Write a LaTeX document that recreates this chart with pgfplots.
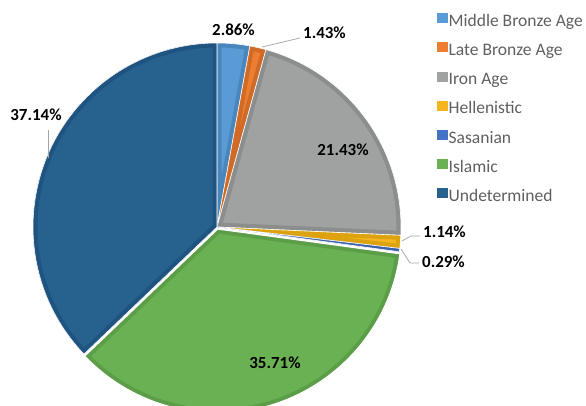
\documentclass[border=0pt]{standalone}
\usepackage{pgfplots}
\pgfplotsset{compat=1.18}
\usepackage{pgfplotstable}
\usepackage{fontspec}
\setmainfont{Carlito}

\definecolor{cMB}{HTML}{5B9BD5}\definecolor{bMB}{HTML}{4A86BE}
\definecolor{cLB}{HTML}{ED7D31}\definecolor{bLB}{HTML}{CF6A27}
\definecolor{cIA}{HTML}{A0A1A1}\definecolor{bIA}{HTML}{8C8D8D}
\definecolor{cHE}{HTML}{F5B51E}\definecolor{bHE}{HTML}{DDA210}
\definecolor{cSA}{HTML}{4472C4}\definecolor{bSA}{HTML}{3A62AA}
\definecolor{cIS}{HTML}{6AB154}\definecolor{bIS}{HTML}{5C9D48}
\definecolor{cUN}{HTML}{27628F}\definecolor{bUN}{HTML}{205480}
\definecolor{legtext}{HTML}{5F5F5F}
\definecolor{leader}{HTML}{A6A6A6}

\pgfplotstableread[col sep=comma]{
name,value
Middle Bronze Age,2.86
Late Bronze Age,1.43
Iron Age,21.43
Hellenistic,1.14
Sasanian,0.29
Islamic,35.71
Undetermined,37.14
}\piedata

\newcommand\piewedge[1]{(axis cs:217,179) -- ++(\csname sa#1\endcsname:184bp) arc[start angle=\csname sa#1\endcsname, end angle=\csname se#1\endcsname, radius=184bp] -- cycle}
\newcommand\pieslice[5]{%
  \begin{scope}[shift={#4}]
    \begin{scope}
      \clip \piewedge{#1};
      \fill[#2] \piewedge{#1};
      \draw[#3, line width=9bp] \piewedge{#1};
    \end{scope}
    \draw[white, line width=#5, line join=round] \piewedge{#1};
  \end{scope}}

\begin{document}
\begin{tikzpicture}
\gdef\cum{90}
\foreach \i in {0,...,6}{%
  \pgfplotstablegetelem{\i}{value}\of\piedata
  \pgfmathsetmacro\e{\cum-3.6*\pgfplotsretval}%
  \expandafter\xdef\csname sa\i\endcsname{\cum}%
  \expandafter\xdef\csname se\i\endcsname{\e}%
  \xdef\cum{\e}%
}
\begin{axis}[
  scale only axis, width=586bp, height=406bp,
  xmin=0, xmax=586, ymin=0, ymax=406,
  hide axis, clip=false,
  legend cell align=left,
  legend style={at={(axis cs:437,393)}, anchor=north west, draw=none, fill=none,
    inner sep=0pt, row sep=11bp, column sep=0pt,
    font=\fontsize{17.6}{20}\selectfont,
    nodes={inner sep=1bp, text height=12bp, text depth=4bp, text=legtext}},
]
\coordinate (BL) at (axis cs:0,0);
\coordinate (TR) at (axis cs:586,406);
\pieslice{0}{cMB}{bMB}{(0bp,0bp)}{0.6bp}
\pieslice{1}{cLB}{bLB}{(0bp,0bp)}{0.6bp}
\pieslice{2}{cIA}{bIA}{(0bp,0bp)}{0.6bp}
\pieslice{3}{cHE}{bHE}{(0bp,0bp)}{0.6bp}
\pieslice{4}{cSA}{bSA}{(0bp,0bp)}{0.6bp}
\pieslice{5}{cIS}{bIS}{(0.7bp,-2bp)}{1.2bp}
\pieslice{6}{cUN}{bUN}{(0bp,0bp)}{0.6bp}

\addlegendimage{legend image code/.code={\fill[cMB] (0bp,0bp) rectangle (10bp,9bp);}}
\addlegendentry{Middle Bronze Age}
\addlegendimage{legend image code/.code={\fill[cLB] (0bp,0bp) rectangle (10bp,9bp);}}
\addlegendentry{Late Bronze Age}
\addlegendimage{legend image code/.code={\fill[cIA] (0bp,0bp) rectangle (10bp,9bp);}}
\addlegendentry{Iron Age}
\addlegendimage{legend image code/.code={\fill[cHE] (0bp,0bp) rectangle (10bp,9bp);}}
\addlegendentry{Hellenistic}
\addlegendimage{legend image code/.code={\fill[cSA] (0bp,0bp) rectangle (10bp,9bp);}}
\addlegendentry{Sasanian}
\addlegendimage{legend image code/.code={\fill[cIS] (0bp,0bp) rectangle (10bp,9bp);}}
\addlegendentry{Islamic}
\addlegendimage{legend image code/.code={\fill[cUN] (0bp,0bp) rectangle (10bp,9bp);}}
\addlegendentry{Undetermined}

% leader lines
\draw[leader, line width=0.75bp] (axis cs:262,359) -- (axis cs:300,368);
\draw[leader, line width=0.75bp] (axis cs:402,165) -- (axis cs:411,170) -- (axis cs:420,170);
\draw[leader, line width=0.75bp] (axis cs:401,157) -- (axis cs:410,143) -- (axis cs:419,143);
\draw[leader, line width=0.75bp] (axis cs:48,276) -- (axis cs:48,248);

% data labels
\begin{scope}[every node/.style={font=\fontsize{17}{20}\selectfont\bfseries, inner sep=0pt}]
\node at (axis cs:233.5,376) {2.86\%};
\node[anchor=west] at (axis cs:303,373) {1.43\%};
\node at (axis cs:343,256) {21.43\%};
\node[anchor=west] at (axis cs:423,174) {1.14\%};
\node[anchor=west] at (axis cs:422,144) {0.29\%};
\node at (axis cs:275,43) {35.71\%};
\node at (axis cs:36,291) {37.14\%};
\end{scope}
\end{axis}
\pgfresetboundingbox
\useasboundingbox (BL) rectangle (TR);
\end{tikzpicture}
\end{document}
